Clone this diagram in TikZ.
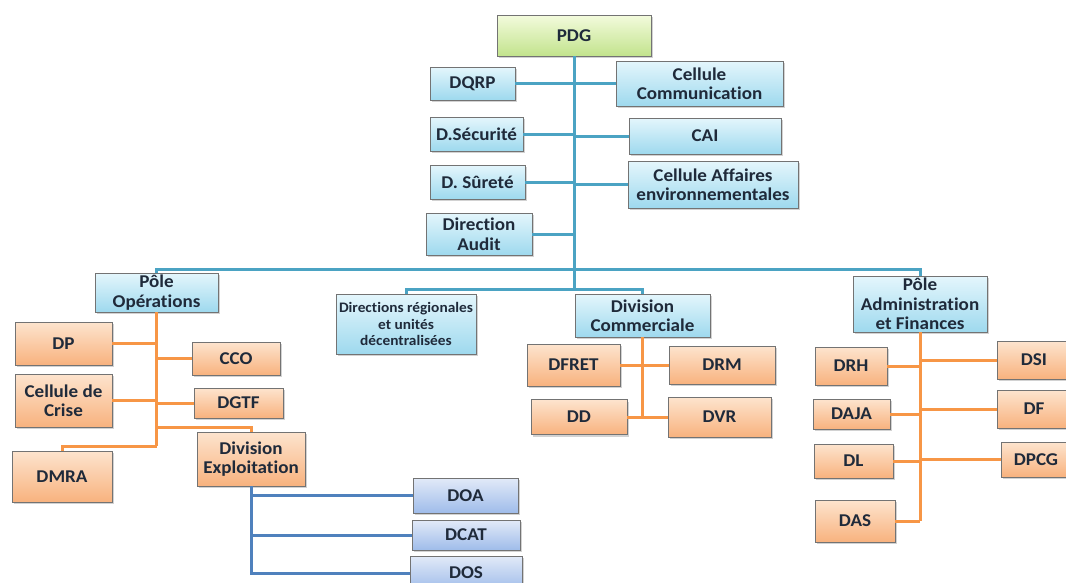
\documentclass[tikz,border=0pt]{standalone}
\usepackage{fontspec}
\setmainfont{Carlito}[Ligatures=NoCommon, FakeStretch=1.06]
\usetikzlibrary{shadows}
\definecolor{txt}{HTML}{1F2A3A}
\definecolor{tealln}{HTML}{4BA3C3}
\definecolor{orgln}{HTML}{F79646}
\definecolor{bluln}{HTML}{4F81BD}
\definecolor{cyanT}{HTML}{E4F6FC}
\definecolor{cyanB}{HTML}{9ED9EE}
\definecolor{orT}{HTML}{FDE4CE}
\definecolor{orB}{HTML}{F8B27E}
\definecolor{grT}{HTML}{F3FBDD}
\definecolor{grB}{HTML}{C2E38C}
\definecolor{blT}{HTML}{E2EAF8}
\definecolor{blB}{HTML}{9FBCEA}
\tikzset{
  basebox/.style={draw=black!55, line width=0.7pt, align=center, inner sep=0pt,
    text=txt, font=\fontsize{18}{19.5}\selectfont\bfseries,
    drop shadow={shadow xshift=1.5pt, shadow yshift=-2pt, opacity=0.35},
    minimum width=#1},
  cbox/.style={basebox=#1, top color=cyanT, bottom color=cyanB},
  obox/.style={basebox=#1, top color=orT, bottom color=orB},
  gbox/.style={basebox=#1, top color=grT, bottom color=grB},
  lbox/.style={basebox=#1, top color=blT, bottom color=blB},
  tln/.style={draw=tealln, line width=3pt},
  oln/.style={draw=orgln, line width=3pt},
  bln/.style={draw=bluln, line width=3pt},
}
\begin{document}
\begin{tikzpicture}[x=1pt,y=-1pt]
\useasboundingbox[fill=white] (0,0) rectangle (1066,582);
\coordinate (b1) at (574,269);
\coordinate (b2) at (574,289);
\coordinate (o1) at (156.5,446);
\coordinate (oe) at (156.5,427);
\coordinate (c1) at (642.5,417);
\coordinate (a1) at (920,521);

% nodes
\node[gbox=154, minimum height=41] (pdg) at (574,35.5) {PDG};
\node[cbox=85, minimum height=33] (dqrp) at (472.5,83.5) {DQRP};
\node[cbox=167, minimum height=45] (ccom) at (699.5,83.5) {Cellule\\Communication};
\node[cbox=93, minimum height=34] (dsec) at (476.5,134) {D.Sécurité};
\node[cbox=152, minimum height=36] (cai) at (705,136) {CAI};
\node[cbox=95, minimum height=34] (dsur) at (477.5,182) {D. Sûreté};
\node[cbox=170, minimum height=47] (caff) at (713,184.5) {Cellule Affaires\\environnementales};
\node[cbox=106, minimum height=42] (daud) at (479,234) {Direction\\Audit};

\node[cbox=123, minimum height=39] (popo) at (156.5,292.5) {Pôle\\Opérations};
\node[cbox=140, minimum height=60, font=\fontsize{14.5}{16.5}\selectfont\bfseries] (dr) at (406,324) {Directions régionales\\et unités\\décentralisées};
\node[cbox=135, minimum height=43] (dc) at (642.5,315.5) {Division\\Commerciale};
\node[cbox=134, minimum height=56] (paf) at (920,304) {Pôle\\Administration\\et Finances};

\node[obox=97, minimum height=43] (dp) at (63.5,343.5) {DP};
\node[obox=88, minimum height=33] (cco) at (236,358.5) {CCO};
\node[obox=97, minimum height=53] (ccrise) at (63.5,400.5) {Cellule de\\Crise};
\node[obox=89, minimum height=30] (dgtf) at (238.5,403) {DGTF};
\node[obox=100, minimum height=51] (dmra) at (62,476.5) {DMRA};
\node[obox=108, minimum height=54] (divex) at (251,459) {Division\\Exploitation};

\node[lbox=105, minimum height=35] (doa) at (465.5,495.5) {DOA};
\node[lbox=108, minimum height=30] (dcat) at (466,535) {DCAT};
\node[lbox=112, minimum height=34] (dos) at (466,573) {DOS};

\node[obox=93, minimum height=42] (dfret) at (573.5,365) {DFRET};
\node[obox=106, minimum height=38] (drm) at (722,365) {DRM};
\node[obox=96, minimum height=35] (dd) at (579,417) {DD};
\node[obox=103, minimum height=40] (dvr) at (719.5,417) {DVR};

\node[obox=72, minimum height=38] (drh) at (851,366) {DRH};
\node[obox=74, minimum height=38] (dsi) at (1034,360) {DSI};
\node[obox=77, minimum height=30] (daja) at (851.5,414) {DAJA};
\node[obox=74, minimum height=38] (df) at (1034,409) {DF};
\node[obox=79, minimum height=34] (dl) at (853.5,461) {DL};
\node[obox=70, minimum height=35] (dpcg) at (1036,459.5) {DPCG};
\node[obox=80, minimum height=42] (das) at (855,521) {DAS};

% teal connectors
\draw[tln] (pdg.south) -- (b2);
\draw[tln] (dqrp.east) -- (dqrp.east -| pdg.south);
\draw[tln] (ccom.west) -- (ccom.west -| pdg.south);
\draw[tln] (dsec.east) -- (dsec.east -| pdg.south);
\draw[tln] (cai.west) -- (cai.west -| pdg.south);
\draw[tln] (dsur.east) -- (dsur.east -| pdg.south);
\draw[tln] (caff.west) -- (caff.west -| pdg.south);
\draw[tln] (daud.east) -- (daud.east -| pdg.south);
\draw[tln] (popo.north) |- (b1) -| (paf.north);
\draw[tln] (dr.north) |- (b2) -| (dc.north);

% orange: operations
\draw[oln] (popo.south) -- (o1);
\draw[oln] (dp.east) -- (dp.east -| popo.south);
\draw[oln] (cco.west) -- (cco.west -| popo.south);
\draw[oln] (ccrise.east) -- (ccrise.east -| popo.south);
\draw[oln] (dgtf.west) -- (dgtf.west -| popo.south);
\draw[oln] (oe) -| (divex.north);
\draw[oln] (o1) -| (dmra.north);

% blue: exploitation
\draw[bln] (divex.south) |- (doa.west);
\draw[bln] (divex.south) |- (dcat.west);
\draw[bln] (divex.south) |- (dos.west);

% orange: commerciale
\draw[oln] (dc.south) -- (c1);
\draw[oln] (dfret.east) -- (drm.west);
\draw[oln] (dd.east) -- (dvr.west);

% orange: admin
\draw[oln] (paf.south) -- (a1);
\draw[oln] (drh.east) -- (drh.east -| paf.south);
\draw[oln] (dsi.west) -- (dsi.west -| paf.south);
\draw[oln] (daja.east) -- (daja.east -| paf.south);
\draw[oln] (df.west) -- (df.west -| paf.south);
\draw[oln] (dl.east) -- (dl.east -| paf.south);
\draw[oln] (dpcg.west) -- (dpcg.west -| paf.south);
\draw[oln] (das.east) -- (das.east -| paf.south);
\end{tikzpicture}
\end{document}
